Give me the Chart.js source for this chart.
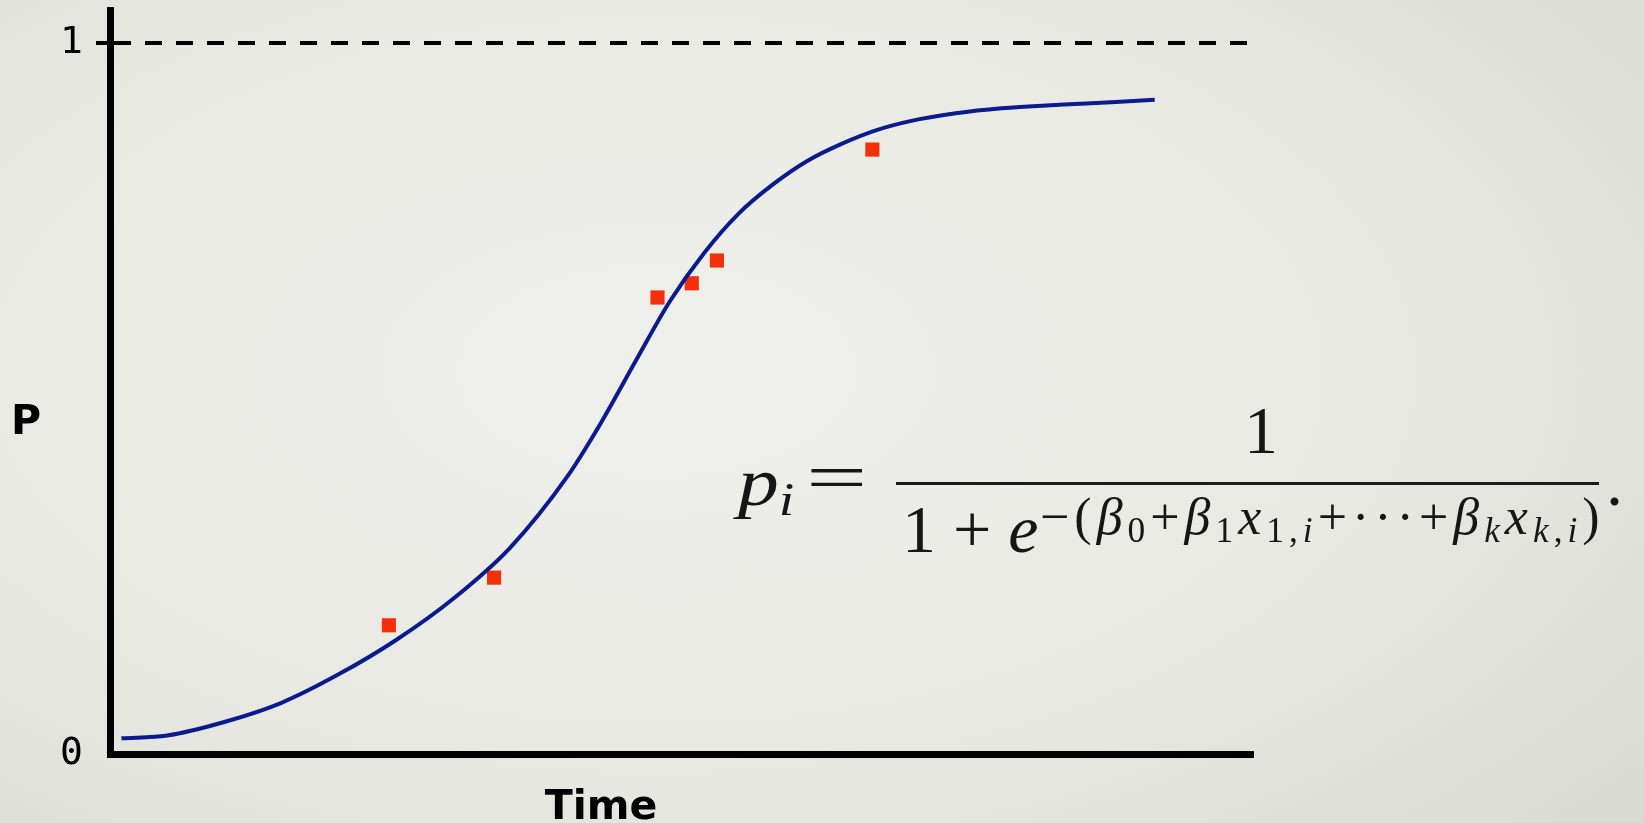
<!DOCTYPE html>
<html>
<head>
<meta charset="utf-8">
<title>Logistic curve</title>
<script src="https://cdn.jsdelivr.net/npm/chart.js@4.4.0/dist/chart.umd.min.js"></script>
<style>
  html, body { margin: 0; padding: 0; }
  body {
    width: 1644px; height: 823px; overflow: hidden; position: relative;
    background: radial-gradient(ellipse 80% 85% at 40% 45%, #efefeb 0%, #e9e9e4 55%, #d9d9d3 100%);
  }
  #chart { position: absolute; left: 0; top: 0; }
  .lbl { position: absolute; font-family: "DejaVu Sans", sans-serif; font-weight: bold;
         font-size: 41px; line-height: 1; color: #000; }
  .m { position: absolute; font-family: "Liberation Serif", serif; color: #161616;
       line-height: 1; white-space: nowrap; }
  .m sub { font-size: 0.68em; vertical-align: -0.22em; line-height: 0; }
  .bar { position: absolute; left: 896px; top: 482px; width: 703px; height: 3px; background: #1c1c1c; }
</style>
</head>
<body>
<canvas id="chart" width="1644" height="823"></canvas>

<div class="lbl" style="left:11px; top:400px;">P</div>
<div class="lbl" style="left:601px; top:785px; transform:translateX(-50%);">Time</div>

<!-- p_i = 1 / (1 + e^-(b0 + b1 x1,i + ... + bk xk,i)) -->
<div class="m" style="left:738px; top:448px; font-size:68px; transform:scaleX(1.2); transform-origin:left;"><i>p</i><sub><i>i</i></sub></div>
<div class="m" style="left:806px; top:443px; font-size:68px; transform:scaleX(1.6); transform-origin:left;">=</div>
<div class="bar"></div>
<div class="m" style="left:1261px; top:396px; font-size:68px; transform:translateX(-50%);">1</div>
<div class="m" style="left:902px; top:495px; font-size:68px;">1 + <i>e</i></div>
<div class="m" style="left:1040px; top:491px; font-size:52px; letter-spacing:5px;">&minus;(<i>&beta;</i><sub>0</sub>+<i>&beta;</i><sub>1</sub><i>x</i><sub>1,<i>i</i></sub>+&middot;&middot;&middot;+<i>&beta;</i><sub><i>k</i></sub><i>x</i><sub><i>k</i>,<i>i</i></sub>)</div>
<div class="m" style="left:1606px; top:448px; font-size:68px;">.</div>

<script>
// fitted logistic curve
const timeCurve = [0.1, 0.5, 1.0, 1.5, 2.0, 2.5, 3.0, 3.5, 4.0, 4.3, 4.6, 4.9, 5.2, 5.5,
  5.8, 6.1, 6.4, 6.7, 7.0, 7.4, 7.8, 8.3, 8.8, 9.14];
const pCurve = [0.022, 0.026, 0.045, 0.072, 0.112, 0.160, 0.218, 0.290, 0.390, 0.467, 0.553, 0.637,
  0.705, 0.760, 0.801, 0.834, 0.858, 0.877, 0.890, 0.901, 0.908, 0.913, 0.917, 0.920];

// observed points
const obsTime = [2.44, 3.36, 4.79, 5.09, 5.31, 6.67];
const obsP = [0.181, 0.248, 0.642, 0.662, 0.694, 0.850];

const yTicks = [0, 1];
const yTickLabels = ['0', '1'];

const ctx = document.getElementById('chart').getContext('2d');
new Chart(ctx, {
  type: 'line',
  data: {
    datasets: [
      {
        label: 'Fit',
        data: timeCurve.map((t, i) => ({ x: t, y: pCurve[i] })),
        borderColor: '#0b1b8e',
        borderWidth: 4,
        pointRadius: 0,
        cubicInterpolationMode: 'monotone',
        fill: false
      },
      {
        type: 'scatter',
        label: 'Observed',
        data: obsTime.map((t, i) => ({ x: t, y: obsP[i] })),
        backgroundColor: '#f4300c',
        borderWidth: 0,
        pointStyle: 'rect',
        pointRadius: 10
      }
    ]
  },
  options: {
    responsive: false,
    animation: false,
    layout: { padding: { left: 0, right: 391, top: 8, bottom: 0 } },
    plugins: { legend: { display: false }, tooltip: { enabled: false } },
    scales: {
      x: {
        type: 'linear',
        min: 0,
        max: 10,
        ticks: { display: false },
        grid: { color: 'transparent', drawTicks: false },
        border: { color: '#000', width: 7 },
        afterFit: s => { s.height = 69; s.paddingLeft = 0; s.paddingRight = 0; }
      },
      y: {
        min: 0,
        max: 1.0463,
        afterBuildTicks: s => { s.ticks = yTicks.map(v => ({ value: v })); },
        ticks: {
          callback: (v, i) => yTickLabels[i],
          font: { family: 'DejaVu Sans Mono', size: 38 },
          color: '#000',
          padding: 13
        },
        grid: {
          color: c => (c.tick && c.tick.value === 1 ? '#000' : 'transparent'),
          tickColor: c => (c.tick && c.tick.value === 1 ? '#000' : 'transparent'),
          lineWidth: 4,
          tickWidth: 4,
          tickLength: 14
        },
        border: { color: '#000', width: 7, dash: [17, 14] },
        afterFit: s => { s.width = 110; s.paddingTop = 0; s.paddingBottom = 0; }
      }
    }
  }
});
</script>
</body>
</html>
